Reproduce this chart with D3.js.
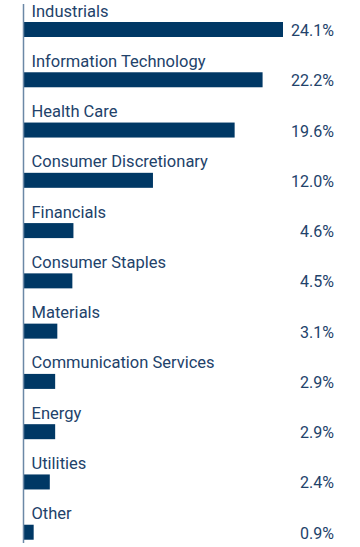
<!DOCTYPE html>
<html>
<head>
<meta charset="utf-8">
<script src="https://cdn.jsdelivr.net/npm/d3@7"></script>
<style>
html,body{margin:0;padding:0;background:#fff;}
svg{display:block;}
</style>
</head>
<body>
<svg id="chart" width="360" height="547"></svg>
<script>
const categories = ["Industrials","Information Technology","Health Care","Consumer Discretionary","Financials","Consumer Staples","Materials","Communication Services","Energy","Utilities","Other"];
const values = [24.1,22.2,19.6,12.0,4.6,4.5,3.1,2.9,2.9,2.4,0.9];
const valueLabels = ["24.1%","22.2%","19.6%","12.0%","4.6%","4.5%","3.1%","2.9%","2.9%","2.4%","0.9%"];

const svg = d3.select("#chart");
const x0 = 24;
const x = d3.scaleLinear().domain([0, 24.1]).range([x0, 283]);
const y = d3.scaleBand().domain(categories).range([4, 557]).paddingInner(0).paddingOuter(0);
const barH = 15;
const barOff = 18;

const fontFam = "Roboto, 'Noto Sans', sans-serif";
const textColor = "#22426a";
const barColor = "#003865";

const g = svg.append("g");

g.selectAll("rect.bar").data(categories).join("rect")
  .attr("class","bar")
  .attr("x", x(0))
  .attr("y", d => y(d) + barOff)
  .attr("width", (d,i) => x(values[i]) - x(0))
  .attr("height", barH)
  .attr("fill", barColor);

g.selectAll("text.cat").data(categories).join("text")
  .attr("class","cat")
  .attr("x", 31.5)
  .attr("y", d => y(d) + 12.5)
  .attr("font-family", fontFam)
  .attr("font-size", 16.5)
  .attr("fill", textColor)
  .text(d => d);

g.selectAll("text.val").data(categories).join("text")
  .attr("class","val")
  .attr("x", 334)
  .attr("y", d => y(d) + barOff + barH - 1)
  .attr("text-anchor","end")
  .attr("font-family", fontFam)
  .attr("font-size", 16)
  .attr("fill", textColor)
  .text((d,i) => valueLabels[i]);

svg.append("line")
  .attr("x1", x0 - 0.5).attr("x2", x0 - 0.5)
  .attr("y1", 4).attr("y2", 543)
  .attr("stroke", "#6b88a6")
  .attr("stroke-width", 1.5);
</script>
</body>
</html>
